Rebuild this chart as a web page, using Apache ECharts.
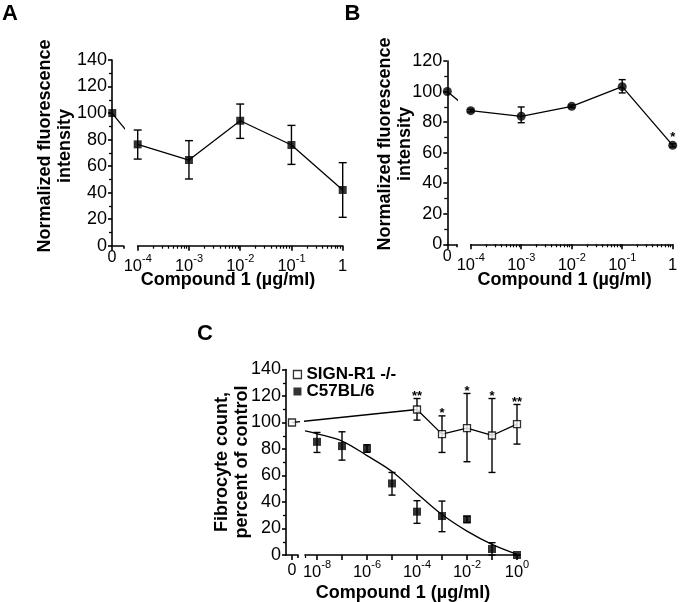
<!DOCTYPE html>
<html><head><meta charset="utf-8">
<script src="https://cdn.jsdelivr.net/npm/echarts@6/dist/echarts.min.js"></script>
<style>html,body{margin:0;padding:0;background:#fff}#c{width:680px;height:602px}</style>
</head><body><div id="c"></div>
<script>
// ================= DATA =================
// Panel A (log10 of concentration; the "0" dose is drawn on its own axis segment)
const aExp   = [-4, -3, -2, -1, 0];
const aZero  = 100;
const aMean  = [76.4, 64.6, 94.2, 75.9, 42.0];
const aLow   = [65.3, 50.3, 80.9, 61.3, 21.4];
const aHigh  = [87.2, 79.2, 106.8, 90.7, 62.6];

// Panel B
const bExp   = [-4, -3, -2, -1, 0];
const bZero  = 100;
const bMean  = [87.5, 83.8, 90.3, 103.2, 64.8];
const bLow   = [86.6, 79.6, 89.4, 99.1, 63.8];
const bHigh  = [88.4, 89.9, 91.2, 107.8, 65.8];
const bStars = ['', '', '', '', '*'];

// Panel C
const cExp     = [-8, -7, -6, -5, -4, -3, -2, -1, 0];
const c57Mean  = [85.4, 82.2, 80.4, 54.0, 32.7, 29.4, 26.9, 4.5, 0];
const c57Low   = [77.4, 71.6, 77.5, 45.2, 23.9, 17.6, 24.5, 0, 0];
const c57High  = [92.5, 93.0, 83.2, 62.3, 41.0, 40.7, 29.3, 9.3, 0];
const signExp  = [-4, -3, -2, -1, 0];
const signZero = 100;
const signMean = [109.8, 91.2, 95.8, 90.2, 98.8];
const signLow  = [101.8, 77.4, 70.4, 62.3, 83.7];
const signHigh = [118.1, 105.0, 121.9, 118.1, 113.6];
const signStars = ['**', '*', '*', '*', '**'];
// fitted curve for C57BL/6
const fitExp = [-8.48, -8, -7, -6, -5, -4, -3, -2, -1, 0];
const fitVal = [93.7, 91.5, 86.0, 75.0, 63.0, 46.5, 30.5, 18.0, 8.0, 0.5];

const seriesNames = ['SIGN-R1 -/-', 'C57BL/6'];
const xTitle = 'Compound 1 (\u00b5g/ml)';
const yTitleAB = 'Normalized fluorescence\nintensity';
const yTitleC = 'Fibrocyte count,\npercent of control';

// ================= BUILD =================
const FONT = '"Liberation Sans", Arial, Helvetica, sans-serif';
const AX = {color: '#000', width: 1.6};
const grids = [], xAxes = [], yAxes = [], series = [], graphics = [];

function rangeLog(from, to) { const r = []; for (let e = from; e <= to; e++) r.push(e); return r; }
function minorLog(from, to) { const r = []; for (let d = from; d < to; d++) for (let k = 2; k <= 9; k++) r.push(d + Math.log10(k)); return r; }

function buildPanel(P) {
  const gZ = grids.push({left: P.zLeft, top: P.top, width: P.zWidth, height: P.height, containLabel: false, outerBoundsMode: 'none'}) - 1;
  const gL = grids.push({left: P.lLeft, top: P.top, width: P.lWidth, height: P.height, containLabel: false, outerBoundsMode: 'none'}) - 1;
  const xZ = xAxes.push({
    gridIndex: gZ, type: 'value', min: P.zMin, max: P.zMax, position: 'bottom',
    axisLine: {show: true, onZero: false, lineStyle: AX},
    axisTick: {show: true, customValues: [P.zeroPos], length: 5, lineStyle: AX},
    axisLabel: {show: true, customValues: [P.zeroPos], formatter: () => '0', margin: P.zeroMargin,
      fontSize: 16, color: '#000', fontFamily: FONT},
    splitLine: {show: false}
  }) - 1;
  xAxes.push({
    gridIndex: gZ, type: 'value', min: P.zMin, max: P.zMax, position: 'bottom',
    axisLine: {show: false, onZero: false},
    axisTick: {show: true, customValues: [P.zMax], length: 3, lineStyle: AX},
    axisLabel: {show: false}, splitLine: {show: false}
  });
  const xL = xAxes.push({
    gridIndex: gL, type: 'value', min: P.lMin, max: P.lMax, position: 'bottom',
    axisLine: {show: true, onZero: false, lineStyle: AX},
    axisTick: {show: true, customValues: P.major, length: 5, lineStyle: AX},
    axisLabel: {show: true, customValues: P.labels, margin: P.labelMargin, color: '#000', fontFamily: FONT,
      formatter: v => {
        const e = Math.round(v);
        if (P.oneAsOne && e === 0) return '{b|1}';
        return '{b|10}{s|' + e + '}';
      },
      rich: {
        b: {fontSize: 16.5, lineHeight: 26, color: '#000', fontFamily: FONT},
        s: {fontSize: 11, lineHeight: 11, padding: [0, 0, 15, 0], color: '#000', fontFamily: FONT}
      }
    },
    splitLine: {show: false}
  }) - 1;
  xAxes.push({
    gridIndex: gL, type: 'value', min: P.lMin, max: P.lMax, position: 'bottom',
    axisLine: {show: false, onZero: false},
    axisTick: {show: true, customValues: P.minor, length: 3, lineStyle: {color: '#000', width: 1.2}},
    axisLabel: {show: false}, splitLine: {show: false}
  });
  const yZ = yAxes.push({
    gridIndex: gZ, type: 'value', min: 0, max: P.yMax, interval: 20, position: 'left',
    axisLine: {show: true, onZero: false, lineStyle: AX},
    axisTick: {show: true, length: 4, lineStyle: AX},
    minorTick: {show: true, splitNumber: 2, length: 3, lineStyle: {color: '#000', width: 1.3}},
    axisLabel: {show: true, fontSize: 18, color: '#000', margin: 5, fontFamily: FONT},
    splitLine: {show: false}, minorSplitLine: {show: false}
  }) - 1;
  const yL = yAxes.push({gridIndex: gL, type: 'value', min: 0, max: P.yMax, show: false,
    splitLine: {show: false}}) - 1;
  return {xZ, xL, yZ, yL};
}

function lineSeries(xi, yi, data, extra) {
  return Object.assign({type: 'line', xAxisIndex: xi, yAxisIndex: yi, data, symbol: 'none', showSymbol: false,
    clip: true, silent: true, z: 2, lineStyle: {color: '#000', width: 1.3}}, extra || {});
}
function errSeries(xi, yi, data, cap, stars, starOff) {
  return {type: 'custom', xAxisIndex: xi, yAxisIndex: yi, data, silent: true, z: 3, clip: false,
    renderItem: (params, api) => {
      const x = api.value(0), lo = api.value(1), hi = api.value(2);
      const a = api.coord([x, hi]), b = api.coord([x, lo]);
      const st = {stroke: '#000', lineWidth: 1.4};
      const ch = [
        {type: 'line', shape: {x1: a[0], y1: a[1], x2: b[0], y2: b[1]}, style: st},
        {type: 'line', shape: {x1: a[0] - cap, y1: a[1], x2: a[0] + cap, y2: a[1]}, style: st},
        {type: 'line', shape: {x1: b[0] - cap, y1: b[1], x2: b[0] + cap, y2: b[1]}, style: st}
      ];
      const s = stars ? stars[params.dataIndex] : '';
      if (s) ch.push({type: 'text', x: a[0], y: a[1] - starOff,
        style: {text: s, font: 'bold 13px ' + FONT, fill: '#000', align: 'center', verticalAlign: 'middle'}});
      return {type: 'group', children: ch};
    }};
}
function scatterSeries(xi, yi, data, symbol, size, itemStyle, name) {
  const s = {type: 'scatter', xAxisIndex: xi, yAxisIndex: yi, data, symbol, symbolSize: size,
    itemStyle, clip: false, silent: true, z: 5};
  if (name) s.name = name;
  return s;
}
const pts = (xs, ys) => xs.map((x, i) => [x, ys[i]]);
const errs = (xs, lo, hi) => xs.map((x, i) => [x, lo[i], hi[i]]);

// ---------- Panel A ----------
const zeroA = -4.496, zeroB = -4.463, zeroC = -9;
const A = buildPanel({zLeft: 112, zWidth: 11.3, zMin: zeroA, zMax: zeroA + 11.3 / 51.25, zeroPos: zeroA,
  lLeft: 137.7, lWidth: 205, lMin: -4, lMax: 0, top: 60, height: 185.7, yMax: 140,
  major: rangeLog(-4, 0), labels: rangeLog(-4, 0), minor: minorLog(-4, 0), oneAsOne: true,
  zeroMargin: 4, labelMargin: 8});
series.push(lineSeries(A.xZ, A.yZ, [[zeroA, aZero], [aExp[0], aMean[0]]]));
series.push(lineSeries(A.xL, A.yL, [[zeroA, aZero]].concat(pts(aExp, aMean))));
series.push(errSeries(A.xL, A.yL, errs(aExp, aLow, aHigh), 4));
series.push(scatterSeries(A.xL, A.yL, [[zeroA, aZero]].concat(pts(aExp, aMean)), 'rect', 8, {color: '#000'}));

// ---------- Panel B ----------
const B = buildPanel({zLeft: 447.3, zWidth: 9.4, zMin: zeroB, zMax: zeroB + 9.4 / 50.5, zeroPos: zeroB,
  lLeft: 470.7, lWidth: 202, lMin: -4, lMax: 0, top: 61, height: 183.3, yMax: 120,
  major: rangeLog(-4, 0), labels: rangeLog(-4, 0), minor: minorLog(-4, 0), oneAsOne: true,
  zeroMargin: 4, labelMargin: 8});
series.push(lineSeries(B.xZ, B.yZ, [[zeroB, bZero], [bExp[0], bMean[0]]]));
series.push(lineSeries(B.xL, B.yL, [[zeroB, bZero]].concat(pts(bExp, bMean))));
series.push(errSeries(B.xL, B.yL, errs(bExp, bLow, bHigh), 3.5, bStars, 6));
series.push(scatterSeries(B.xL, B.yL, [[zeroB, bZero]].concat(pts(bExp, bMean)), 'circle', 9, {color: '#000'}));

// ---------- Panel C ----------
const C = buildPanel({zLeft: 286, zWidth: 12, zMin: -9.24, zMax: -8.76, zeroPos: zeroC,
  lLeft: 305, lWidth: 212, lMin: -8.48, lMax: 0, top: 369.5, height: 185.5, yMax: 140,
  major: rangeLog(-8, 0), labels: [-8, -6, -4, -2, 0], minor: [-8.48], oneAsOne: false,
  zeroMargin: 8, labelMargin: 4});
series.push(lineSeries(C.xL, C.yL, pts(fitExp, fitVal), {smooth: 0.35}));
series.push(lineSeries(C.xZ, C.yZ, [[zeroC, signZero], [signExp[0], signMean[0]]]));
series.push(lineSeries(C.xL, C.yL, [[zeroC, signZero]].concat(pts(signExp, signMean))));
series.push(errSeries(C.xL, C.yL, errs(cExp, c57Low, c57High), 3.5));
series.push(errSeries(C.xL, C.yL, errs(signExp, signLow, signHigh), 3.5, signStars, 2));
series.push(scatterSeries(C.xL, C.yL, pts(cExp, c57Mean), 'rect', 8, {color: '#000'}, seriesNames[1]));
series.push(scatterSeries(C.xL, C.yL, [[zeroC, signZero]].concat(pts(signExp, signMean)), 'rect', 7,
  {color: '#fff', borderColor: '#000', borderWidth: 1.3}, seriesNames[0]));

// ---------- texts ----------
function txt(x, y, text, size, rot) {
  graphics.push({type: 'text', x, y, rotation: rot || 0, silent: true, z: 10,
    style: {text, font: 'bold ' + size + 'px ' + FONT, fill: '#000', align: 'center', verticalAlign: 'middle', lineHeight: 20}});
}
txt(10, 14, 'A', 22);
txt(352.5, 14, 'B', 22);
txt(205, 334, 'C', 22);
txt(228, 280, xTitle, 18);
txt(564.6, 280, xTitle, 18);
txt(403, 593, xTitle, 18);
txt(55, 146, yTitleAB, 18, Math.PI / 2);
txt(395, 144, yTitleAB, 18, Math.PI / 2);
txt(231.7, 462, yTitleC, 18, Math.PI / 2);

const option = {
  animation: false,
  textStyle: {fontFamily: FONT},
  grid: grids, xAxis: xAxes, yAxis: yAxes, series,
  legend: {
    data: [
      {name: seriesNames[0], itemStyle: {color: '#fff', borderColor: '#000', borderWidth: 1.3}},
      {name: seriesNames[1], itemStyle: {color: '#000'}}
    ],
    orient: 'vertical', left: 292.8, top: 366, padding: 0, itemGap: 0, itemWidth: 8, itemHeight: 8,
    selectedMode: false,
    textStyle: {fontSize: 17, fontWeight: 'bold', color: '#000', fontFamily: FONT, lineHeight: 16}
  },
  graphic: {elements: graphics}
};
echarts.init(document.getElementById('c'), null, {renderer: 'canvas'}).setOption(option);
</script></body></html>
